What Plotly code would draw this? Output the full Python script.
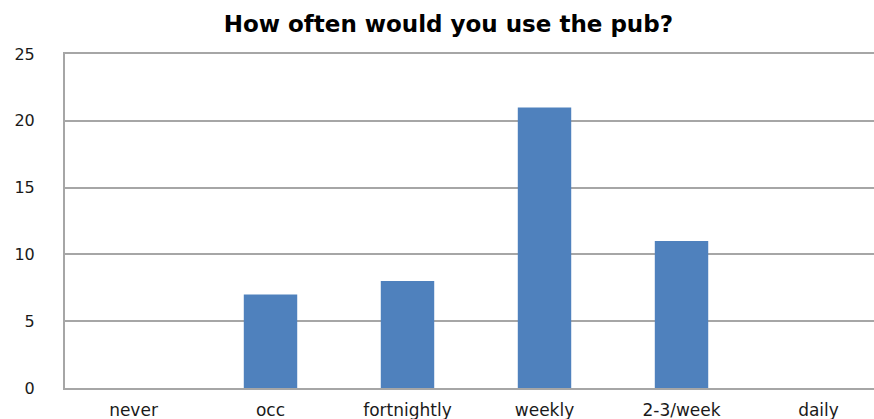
import plotly.graph_objects as go

categories = ["never", "occ", "fortnightly", "weekly", "2-3/week", "daily"]
responses = [0, 7, 8, 21, 11, 0]
y_ticks = [0, 5, 10, 15, 20, 25]

fig = go.Figure(
    go.Bar(
        x=categories,
        y=responses,
        marker=dict(color="#4F81BD", line=dict(width=0)),
        width=0.39,
    )
)

fig.update_layout(
    width=874,
    height=419,
    margin=dict(l=65, r=0, t=54, b=31),
    paper_bgcolor="white",
    plot_bgcolor="white",
    font=dict(family="DejaVu Sans, Verdana, sans-serif", size=16, color="#1a1a1a"),
    title=dict(
        text="<b>How often would you use the pub?</b>",
        x=0.513,
        xanchor="center",
        y=0.943,
        yanchor="middle",
        font=dict(size=23, color="#000000"),
    ),
    showlegend=False,
)

fig.update_xaxes(
    type="category",
    range=[-0.5, 5.405],
    showgrid=False,
    showline=True,
    mirror=True,
    linecolor="#a6a6a6",
    linewidth=2,
    ticks="",
    automargin=False,
    ticklabelstandoff=6,
    tickfont=dict(size=17),
)

fig.update_yaxes(
    range=[0, 25],
    tickvals=y_ticks,
    showgrid=True,
    gridcolor="#a6a6a6",
    gridwidth=1.5,
    showline=True,
    linecolor="#a6a6a6",
    linewidth=2,
    zeroline=False,
    ticks="",
    automargin=False,
    ticklabelstandoff=25,
    tickfont=dict(size=16),
)

fig.write_html("out.html")
